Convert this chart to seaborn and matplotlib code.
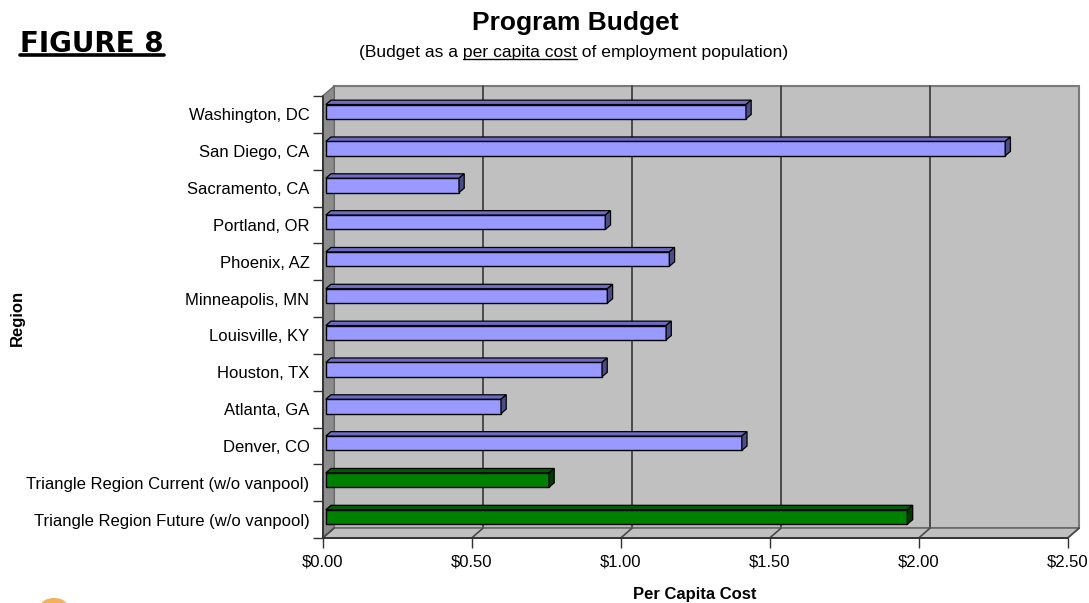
import numpy as np
import matplotlib
matplotlib.use("Agg")
import matplotlib.pyplot as plt
import seaborn as sns
import pandas as pd
from matplotlib.patches import Polygon, Rectangle, Ellipse
from matplotlib.transforms import ScaledTranslation, IdentityTransform
from matplotlib.lines import Line2D

# ---------------- data ----------------
regions = ["Washington, DC", "San Diego, CA", "Sacramento, CA", "Portland, OR",
           "Phoenix, AZ", "Minneapolis, MN", "Louisville, KY", "Houston, TX",
           "Atlanta, GA", "Denver, CO",
           "Triangle Region Current (w/o vanpool)",
           "Triangle Region Future (w/o vanpool)"]
per_capita_cost = [1.41, 2.28, 0.447, 0.938, 1.153, 0.945, 1.142, 0.927,
                   0.588, 1.396, 0.749, 1.952]
group = ["Peer"] * 10 + ["Triangle"] * 2
xticks = [0.0, 0.5, 1.0, 1.5, 2.0, 2.5]
xticklabels = ["$0.00", "$0.50", "$1.00", "$1.50", "$2.00", "$2.50"]

df = pd.DataFrame({"Region": regions, "Cost": per_capita_cost, "Group": group})

# ---------------- styling ----------------
W, H, DPI = 1089, 603, 100
sns.set_theme(style="white")
plt.rcParams["font.family"] = ["Liberation Sans", "DejaVu Sans"]
plt.rcParams["text.color"] = "black"
plt.rcParams["xtick.labelcolor"] = "black"
plt.rcParams["ytick.labelcolor"] = "black"

face = {"Peer": "#9999FF", "Triangle": "#008000"}
topc = {"Peer": "#6C6CC4", "Triangle": "#005C00"}
sidec = {"Peer": "#4D4D85", "Triangle": "#003C00"}

fig = plt.figure(figsize=(W / DPI, H / DPI), dpi=DPI)
fig.patch.set_facecolor("white")

L, R, T, B = 322.7, 1067.7, 96.0, 538.0
ax = fig.add_axes([L / W, 1 - B / H, (R - L) / W, (B - T) / H])
ax.patch.set_visible(False)
for s in ax.spines.values():
    s.set_visible(False)

DX, DY = 11.5, 10.0          # depth of the 3D box (pixels)
BDX, BDY = 3.1, 2.7          # bar front offset
BD_X, BD_Y = 5.2, 4.4        # bar depth

sns.barplot(data=df, x="Cost", y="Region", hue="Group", palette=face,
            orient="h", width=0.39, dodge=False, saturation=1,
            edgecolor="black", linewidth=1.0, legend=False, ax=ax, zorder=5)

ax.set_xlim(0, 2.5)
ax.set_ylim(len(regions) - 0.5, -0.5)

bars = [p for p in ax.patches if isinstance(p, Rectangle)][:len(regions)]

wall_tr = ax.transAxes + ScaledTranslation(DX / DPI, DY / DPI, fig.dpi_scale_trans)
data_back_tr = ax.transData + ScaledTranslation(DX / DPI, DY / DPI, fig.dpi_scale_trans)

# back wall
ax.add_patch(Rectangle((0, 0), 1, 1, transform=wall_tr, facecolor="#C0C0C0",
                       edgecolor="#7A7A7A", lw=1.5, zorder=0, clip_on=False))
# gridlines on back wall
for xv in xticks[1:-1]:
    ax.add_line(Line2D([xv, xv], [len(regions) - 0.5, -0.5], transform=data_back_tr,
                       color="#4A4A4A", lw=1.4, zorder=1, clip_on=False))

# corners in display px
(x0, yb), (x1, yt) = ax.transAxes.transform([(0, 0), (1, 1)])
idt = IdentityTransform()
# left side wall
ax.add_patch(Polygon([(x0, yt), (x0 + DX, yt + DY), (x0 + DX, yb + DY), (x0, yb)],
                     closed=True, transform=idt, facecolor="#8C8C8C",
                     edgecolor="#6A6A6A", lw=1.0, zorder=2, clip_on=False))
# floor
ax.add_patch(Polygon([(x0, yb), (x1, yb), (x1 + DX, yb + DY), (x0 + DX, yb + DY)],
                     closed=True, transform=idt, facecolor="#C0C0C0",
                     edgecolor="#6A6A6A", lw=1.2, zorder=2, clip_on=False))
# floor diagonals at ticks
for xv in xticks:
    px_, _ = ax.transData.transform((xv, 0))
    ax.add_line(Line2D([px_, px_ + DX], [yb, yb + DY], transform=idt,
                       color="#4A4A4A", lw=1.2, zorder=3, clip_on=False))
# front axis lines
ax.add_line(Line2D([x0, x1], [yb, yb], transform=idt, color="#303030", lw=1.3,
                   zorder=4, clip_on=False))
ax.add_line(Line2D([x0, x0], [yb, yt], transform=idt, color="#303030", lw=1.3,
                   zorder=4, clip_on=False))

# 3D bars
bar_tr = ax.transData + ScaledTranslation(BDX / DPI, BDY / DPI, fig.dpi_scale_trans)
for p, g in zip(bars, group):
    p.set_transform(bar_tr)
    p.set_zorder(6)
    p.set_clip_on(False)
    bx0, by0 = p.get_x(), p.get_y()
    bw, bh = p.get_width(), p.get_height()
    (ax0, ay0), (ax1, ay1) = ax.transData.transform([(bx0, by0), (bx0 + bw, by0 + bh)])
    xl, xr = min(ax0, ax1) + BDX, max(ax0, ax1) + BDX
    ytop, ybot = max(ay0, ay1) + BDY, min(ay0, ay1) + BDY
    ax.add_patch(Polygon([(xl, ytop), (xr, ytop), (xr + BD_X, ytop + BD_Y),
                          (xl + BD_X, ytop + BD_Y)], closed=True, transform=idt,
                         facecolor=topc[g], edgecolor="black", lw=0.9,
                         zorder=6, clip_on=False))
    ax.add_patch(Polygon([(xr, ytop), (xr + BD_X, ytop + BD_Y), (xr + BD_X, ybot + BD_Y),
                          (xr, ybot)], closed=True, transform=idt,
                         facecolor=sidec[g], edgecolor="black", lw=0.9,
                         zorder=6, clip_on=False))

# ticks and labels
ax.set_xticks(xticks)
ax.set_xticklabels([t.replace("$", r"\$") for t in xticklabels], fontsize=12,
                   color="black")
ax.tick_params(axis="x", direction="out", length=7.2, width=1.0, color="#303030",
               pad=5, bottom=True, labelcolor="black")
ax.set_yticks(np.arange(len(regions)))
ax.set_yticklabels(regions, fontsize=12, color="black")
ax.set_yticks(np.arange(-0.5, len(regions), 1.0), minor=True)
ax.tick_params(axis="y", which="major", length=0, pad=9.5, left=True,
               labelcolor="black")
ax.tick_params(axis="y", which="minor", direction="out", length=7.2, width=1.0,
               color="#303030", left=True)
ax.set_xlabel("")
ax.set_ylabel("")

# axis titles
fig.text(695 / W, 1 - 594 / H, "Per Capita Cost", fontsize=12, fontweight="bold",
         ha="center", va="center", color="black")
fig.text(17 / W, 1 - 318 / H, "Region", fontsize=12, fontweight="bold",
         rotation=90, ha="center", va="center", color="black")

# titles
fig.text(575 / W, 1 - 23 / H, "Program Budget", fontsize=19, fontweight="bold",
         ha="center", va="center", color="black")
full = "(Budget as a per capita cost of employment population)"
sub = fig.text(574 / W, 1 - 52 / H, full, fontsize=12.6, ha="center",
               va="center", color="black")

fig_t = fig.text(20 / W, 1 - 52 / H, "FIGURE 8", fontsize=20, fontweight="bold",
                 family="DejaVu Sans", ha="left", va="baseline", color="black")

# underlines (measured from rendered text)
fig.canvas.draw()
rend = fig.canvas.get_renderer()
bb = sub.get_window_extent(rend)
pre = "(Budget as a "
mid = "per capita cost"

def text_w(s, size):
    t = fig.text(0, 0, s, fontsize=size)
    w = t.get_window_extent(rend).width
    t.remove()
    return w

scale = bb.width / text_w(full, 12.6)
u0 = bb.x0 + text_w(pre, 12.6) * scale
u1 = u0 + text_w(mid, 12.6) * scale
uy = bb.y0 + 1.0
fig.add_artist(Line2D([u0, u1], [uy, uy], transform=idt, color="black", lw=1.0))

fb = fig_t.get_window_extent(rend)
fy = H - 54.5
fig.add_artist(Line2D([fb.x0, fb.x1], [fy, fy], transform=idt, color="black", lw=2.6))

# small logo fragment at the bottom-left
fig.add_artist(Ellipse((54, -4), 28, 18, transform=idt, facecolor="#F39C33",
                       edgecolor="none", alpha=0.8))

fig.savefig("out.png", dpi=DPI, facecolor="white")
